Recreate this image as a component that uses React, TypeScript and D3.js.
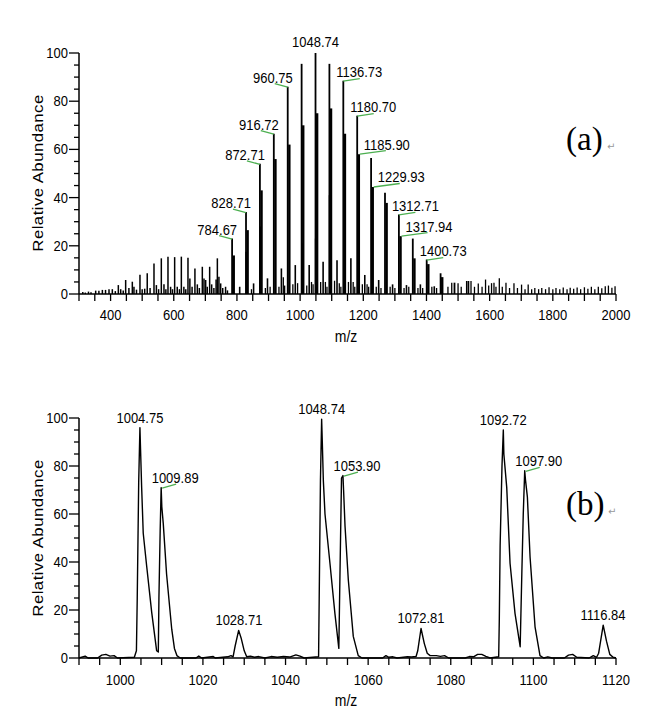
import React from 'react';
import * as d3 from 'd3';

// ---------- Panel (a): centroid spectrum, m/z 300-2000 ----------
const lowSticks: [number, number][] = [
  [312, 0.8], [320, 0.6], [330, 1], [338, 0.7], [352.8, 1.4], [363, 1.4], [374, 1.7], [384, 1.7],
  [395, 2], [405.5, 2], [415, 1.2], [424.5, 3.7], [432, 2], [440, 1.5], [447.7, 5.8], [458, 2.5],
  [468.8, 5.1], [474, 3], [482, 1.8], [493, 8], [500, 2], [508, 2.2], [516, 8.6], [525, 2.5],
  [537.4, 12.7], [545, 3.7], [552, 2], [560.6, 14.8], [569, 4], [575, 2], [581.7, 15.5], [590, 3],
  [596, 2], [602.8, 15.3], [611, 3], [618, 2], [624, 15.5], [632, 3], [638, 2], [645, 15],
  [651, 6.4], [658, 3], [667, 10.6], [674.6, 4], [681, 2.5], [690.4, 11.3], [695.7, 6.4], [701, 5.8],
  [706, 3], [713.6, 11.3], [720, 4], [727, 2.5], [734, 6], [738, 14.8], [743, 7.2], [748.5, 4.4],
  [755, 2.5], [764, 3], [770, 1.5],
];

const mainSeries: [number, number][] = [
  [784.67, 23], [828.71, 34], [872.71, 54], [916.72, 66.5], [960.75, 86], [1004.75, 95.5],
  [1048.74, 100], [1092.72, 95.5], [1136.73, 88.5], [1180.70, 74], [1224.70, 56.4], [1268.70, 42],
  [1312.71, 33], [1356.70, 23], [1400.73, 14.3], [1444.70, 8.6], [1488.70, 4.7], [1532.70, 5.4],
];

const satelliteSeries: [number, number][] = [
  [789.87, 16], [833.88, 26.5], [877.89, 43], [921.90, 56], [965.91, 62], [1009.89, 70],
  [1053.90, 75], [1097.90, 77], [1141.90, 66.5], [1185.90, 58], [1229.93, 44.4], [1273.92, 37.8],
  [1317.94, 24], [1361.90, 14.8], [1405.90, 12.4], [1449.90, 7],
];

const shoulderSeries: [number, number][] = [
  [830.5, 17.5], [874.5, 28], [1006.5, 21], [1050.5, 23], [1094.5, 41],
];

const adductSeries: [number, number][] = [
  [808.7, 3], [852.7, 4.4], [896.7, 6.5], [940.7, 10.6], [984.7, 12], [1028.7, 12],
  [1072.8, 13.4], [1116.8, 14], [1160.7, 14.8], [1204.7, 7.9], [1248.7, 5.8], [1292.7, 4],
  [1336.7, 3.7], [1380.7, 4], [1424.7, 3.2],
];

const minorSticks: [number, number][] = [
  [846, 2], [890, 2.5], [905, 3], [933, 3], [946.8, 7], [951, 3.5], [977, 4], [992, 4.5],
  [1021, 3.5], [1036, 5], [1041, 4], [1065, 5], [1080, 5], [1085, 3], [1109, 5.5], [1124, 4.5],
  [1129, 3], [1153, 5], [1168, 5], [1173, 3], [1197, 4], [1212, 4], [1217, 3], [1241, 3],
  [1256, 2.5], [1285, 3], [1300, 2.5], [1329, 2.5], [1344, 3], [1373, 2.5], [1388, 2.5],
  [1417, 3], [1432, 2.5],
];

const tailSticks: [number, number][] = [
  [1468, 3], [1480, 4.7], [1500, 4.5], [1510, 3], [1527, 5.4], [1541, 5.4], [1552, 3],
  [1564, 4.4], [1576, 3], [1587, 6], [1597, 3.5], [1606, 4.5], [1613.7, 4.7], [1620, 3],
  [1630.6, 6.5], [1640, 3], [1651.7, 4.7], [1663, 2.5], [1677, 4.5], [1688, 2.5], [1701, 3.9],
  [1712, 2], [1722, 3.9], [1733, 2], [1743, 2.5], [1755, 2], [1765, 2.5], [1777, 2], [1788, 2.8],
  [1800, 2], [1810, 2.5], [1822, 2], [1833, 2.7], [1845, 2], [1855, 2.6], [1866, 2.2], [1877, 2.7],
  [1888, 2], [1900, 2.8], [1911, 2.2], [1922, 3], [1933, 2], [1944, 3], [1955, 2.4], [1966, 3.2],
  [1976, 3.5], [1987, 2.6], [1997, 3.2],
];

// labels: [m/z, intensity, placement]
const labelsA: [number, number, string][] = [
  [784.67, 23, 'l'], [828.71, 34, 'l'], [872.71, 54, 'l'], [916.72, 66.5, 'l'], [960.75, 86, 'l'],
  [1048.74, 100, 'c'], [1136.73, 88.5, 'r'], [1180.70, 74, 'r'], [1185.90, 58, 'rb'],
  [1229.93, 44.4, 'rb'], [1312.71, 33, 'r'], [1317.94, 24, 'rb'], [1400.73, 14.3, 'r'],
];

const xTicksLabelA = [400, 600, 800, 1000, 1200, 1400, 1600, 1800, 2000];
const yTicksLabel = [0, 20, 40, 60, 80, 100];

// ---------- Panel (b): profile spectrum, m/z 990-1120 ----------
const profileB: [number, number][] = [
  [990, 0], [991.5, 0.8], [992.2, 0], [994.5, 0], [995.5, 1.2], [996.5, 1.5], [997.5, 0.8], [998.5, 1],
  [999.3, 0], [1003.4, 0.3], [1003.9, 3], [1004.1, 25], [1004.45, 73], [1004.75, 96], [1004.9, 87],
  [1005.15, 72], [1005.55, 52], [1006.4, 38], [1007.6, 19], [1008.8, 3], [1009.2, 2.5], [1009.35, 25],
  [1009.65, 53], [1009.89, 71], [1010.05, 63], [1010.4, 56], [1011.2, 35], [1012.45, 12], [1013.1, 4],
  [1013.7, 1], [1014.5, 0], [1018.3, 0], [1019, 0.8], [1019.7, 0], [1022.5, 0.6], [1023, 0],
  [1026, 0.5], [1026.8, 1], [1027.3, 0.5], [1027.8, 5], [1028.65, 11.5], [1029.3, 8], [1030, 3],
  [1030.6, 0.5], [1031.5, 0.8], [1032.5, 0.3], [1033.5, 0.6], [1035, 0], [1036.5, 0.6], [1038, 0.3],
  [1039.5, 0.6], [1041, 0.4], [1042.5, 1.3], [1043.5, 0.8], [1044.5, 0], [1048, 0.5], [1048.15, 25],
  [1048.45, 74], [1048.74, 99.5], [1048.9, 90], [1049.15, 74], [1049.55, 60], [1050.75, 39.5],
  [1051.95, 18.6], [1052.9, 4], [1053.15, 32], [1053.55, 75], [1053.9, 76], [1054.05, 70],
  [1054.4, 55], [1055.2, 32.5], [1056.4, 9], [1057.6, 1], [1058.5, 0], [1063.5, 0], [1064.3, 1],
  [1065, 0.3], [1066, 0.5], [1067, 0], [1069.5, 0.5], [1070.5, 0.4], [1071.6, 0.6], [1072, 3],
  [1072.8, 12.3], [1073.6, 6], [1074.3, 2], [1075, 1], [1076.5, 1], [1077.5, 0.7], [1078.5, 1],
  [1079.5, 0], [1083.5, 0], [1084.5, 0.6], [1085.5, 0.5], [1086.5, 1.5], [1087.5, 1.5], [1088.5, 0.7],
  [1089.5, 0], [1091.6, 0.5], [1091.75, 16], [1091.95, 47], [1092.4, 80], [1092.72, 95],
  [1092.85, 85], [1093.55, 71], [1094.35, 39.5], [1095.55, 18.6], [1096.8, 4.7], [1097.2, 35],
  [1097.55, 60], [1097.9, 78], [1098.1, 74], [1098.55, 67], [1099.2, 42], [1100.4, 13], [1101.6, 1],
  [1102.5, 0], [1103.5, 0.5], [1104.5, 0], [1107.5, 0], [1108.5, 1.2], [1109.5, 1.5], [1110.5, 0.3],
  [1113.5, 0], [1114.5, 1], [1115.3, 0.3], [1115.8, 2], [1116.9, 13.7], [1117.7, 7], [1118.5, 1.5],
  [1119.3, 0.3], [1120, 0],
];

const labelsB: [number, number, string][] = [
  [1004.75, 96, 'c'], [1009.89, 71, 'b'], [1028.71, 11.5, 'c'], [1048.74, 99.5, 'c'],
  [1053.90, 76, 'b'], [1072.81, 12.3, 'c'], [1092.72, 95, 'c'], [1097.90, 78, 'b'],
  [1116.84, 13.7, 'c'],
];

const xTicksLabelB = [1000, 1020, 1040, 1060, 1080, 1100, 1120];

const SANS = "'Liberation Sans', Arial, Helvetica, sans-serif";
const SERIF = "'Liberation Serif', 'Times New Roman', serif";
const GREEN = '#4caf50';
const SY = 1.12;

function Txt({ x, y, anchor = 'start', size = 13, children }: any) {
  return (
    <text transform={`translate(${x},${y}) scale(1,${SY})`} textAnchor={anchor}
      fontSize={size} fontFamily={SANS} fill="#000">{children}</text>
  );
}

function YAxis({ y, x0 }: any) {
  const minor = d3.range(0, 101, 5);
  return (
    <g>
      <line x1={x0} x2={x0} y1={y(0)} y2={y(100)} stroke="#000" strokeWidth={1.5} />
      {minor.map((v) => (
        <line key={v} x1={x0 - (v % 20 === 0 ? 10 : 5)} x2={x0} y1={y(v)} y2={y(v)} stroke="#000" strokeWidth={1.3} />
      ))}
      {yTicksLabel.map((v) => (
        <Txt key={v} x={x0 - 11} y={y(v) + 5} anchor="end">{v}</Txt>
      ))}
    </g>
  );
}

export default function App() {
  const xA = d3.scaleLinear().domain([300, 2000]).range([79, 616]);
  const yA = d3.scaleLinear().domain([0, 100]).range([294, 53]);
  const xB = d3.scaleLinear().domain([990, 1120]).range([79, 616]);
  const yB = d3.scaleLinear().domain([0, 100]).range([658, 418]);

  const sticks = (arr: [number, number][], w: number, key: string) =>
    arr.map(([m, v], i) => (
      <line key={key + i} x1={xA(m)} x2={xA(m)} y1={yA(0)} y2={yA(v)} stroke="#000" strokeWidth={w} />
    ));

  const line = d3.line<[number, number]>().x((d) => xB(d[0])).y((d) => yB(d[1]));

  const labA = labelsA.map(([m, v, k]) => {
    const px = xA(m), top = yA(v), t = m.toFixed(2);
    if (k === 'c') return <Txt key={t} x={px} y={top - 6} anchor="middle">{t}</Txt>;
    if (k === 'l') return (
      <g key={t}>
        <Txt x={px + 5} y={top - 4} anchor="end">{t}</Txt>
        <line x1={px - 13} y1={top - 3} x2={px} y2={top + 0.5} stroke={GREEN} strokeWidth={1.3} />
      </g>
    );
    if (k === 'r') return (
      <g key={t}>
        <Txt x={px - 7} y={top - 3.5}>{t}</Txt>
        <line x1={px} y1={top + 0.5} x2={px + 16.5} y2={top - 2} stroke={GREEN} strokeWidth={1.3} />
      </g>
    );
    return (
      <g key={t}>
        <Txt x={px + 5} y={top - 4.5}>{t}</Txt>
        <line x1={px + 1} y1={top} x2={px + 27} y2={top - 3.5} stroke={GREEN} strokeWidth={1.3} />
      </g>
    );
  });

  const labB = labelsB.map(([m, v, k]) => {
    const px = xB(m), top = yB(v), t = m.toFixed(2);
    if (k === 'c') return <Txt key={t} x={px} y={top - 5} anchor="middle">{t}</Txt>;
    return (
      <g key={t}>
        <Txt x={px - 9.5} y={top - 4.5}>{t}</Txt>
        <line x1={px + 1} y1={top + 0.5} x2={px + 15} y2={top - 3.5} stroke={GREEN} strokeWidth={1.3} />
      </g>
    );
  });

  return (
    <svg width={657} height={720} style={{ position: 'absolute', left: 0, top: 0, background: '#fff' }}>
      <rect width={657} height={720} fill="#fff" />
      {/* ----- Panel (a) ----- */}
      <g>
        {sticks(lowSticks, 1.5, 'lo')}
        {sticks(minorSticks, 1.3, 'mi')}
        {sticks(tailSticks, 1.3, 'ta')}
        {sticks(adductSeries, 1.6, 'ad')}
        {sticks(shoulderSeries, 2.4, 'sh')}
        {sticks(satelliteSeries, 2.4, 'sa')}
        {sticks(mainSeries, 1.8, 'ma')}
        <line x1={xA(300)} x2={xA(2000)} y1={yA(0)} y2={yA(0)} stroke="#000" strokeWidth={1.6} />
        {d3.range(300, 2001, 50).map((v) => (
          <line key={v} x1={xA(v)} x2={xA(v)} y1={yA(0)} y2={yA(0) + 7} stroke="#000" strokeWidth={1.3} />
        ))}
        {xTicksLabelA.map((v) => (
          <Txt key={v} x={xA(v)} y={320} anchor="middle">{v}</Txt>
        ))}
        <YAxis y={yA} x0={79} />
        <Txt x={346} y={342} anchor="middle" size={14}>m/z</Txt>
        <text transform={`translate(43,173) scale(1,${SY}) rotate(-90)`} textAnchor="middle"
          fontSize={15} fontFamily={SANS} letterSpacing={0.4}>Relative Abundance</text>
        {labA}
        <text x={566} y={150} fontSize={33} fontFamily={SERIF}>(a)</text>
        <text x={607} y={150} fontSize={10} fontFamily="'DejaVu Sans', sans-serif" fill="#999">↵</text>
      </g>

      {/* ----- Panel (b) ----- */}
      <g>
        <path d={line(profileB) || ''} fill="none" stroke="#000" strokeWidth={1.4} strokeLinejoin="round" />
        <line x1={xB(990)} x2={xB(1120)} y1={yB(0)} y2={yB(0)} stroke="#000" strokeWidth={1.6} />
        {d3.range(990, 1121, 5).map((v) => (
          <line key={v} x1={xB(v)} x2={xB(v)} y1={yB(0)} y2={yB(0) + 7} stroke="#000" strokeWidth={1.3} />
        ))}
        {xTicksLabelB.map((v) => (
          <Txt key={v} x={xB(v)} y={685} anchor="middle">{v}</Txt>
        ))}
        <YAxis y={yB} x0={79} />
        <Txt x={346} y={706} anchor="middle" size={14}>m/z</Txt>
        <text transform={`translate(43,538) scale(1,${SY}) rotate(-90)`} textAnchor="middle"
          fontSize={15} fontFamily={SANS} letterSpacing={0.4}>Relative Abundance</text>
        {labB}
        <text x={566} y={515} fontSize={33} fontFamily={SERIF}>(b)</text>
        <text x={608} y={515} fontSize={10} fontFamily="'DejaVu Sans', sans-serif" fill="#999">↵</text>
      </g>
    </svg>
  );
}
